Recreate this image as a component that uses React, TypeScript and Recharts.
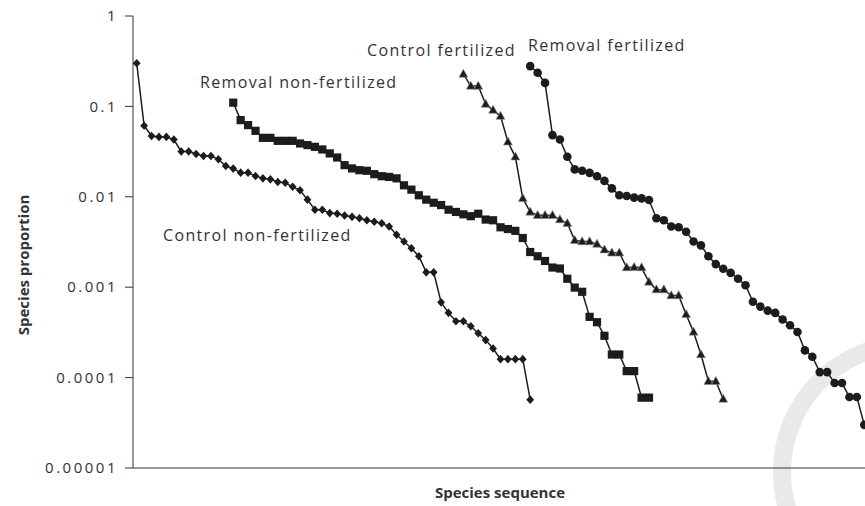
import React from "react"
import { LineChart, Line, XAxis, YAxis } from "recharts"

// species proportions
const controlNonFertilized = [
  0.3, 0.061, 0.047, 0.046, 0.046, 0.043, 0.0317, 0.0317, 0.0298, 0.0283,
  0.0283, 0.026, 0.0219, 0.0205, 0.0185, 0.0185, 0.017, 0.016, 0.0156, 0.0146,
  0.0143, 0.0129, 0.0118, 0.0093, 0.0072, 0.0072, 0.0066, 0.0065, 0.0062, 0.006,
  0.0058, 0.0055, 0.0053, 0.0051, 0.0047, 0.0038, 0.0032, 0.0027, 0.0022, 0.00146,
  0.00146, 0.00068, 0.00052, 0.00042, 0.00042, 0.00037, 0.00031, 0.00026, 0.00021, 0.00016,
  0.00016, 0.00016, 0.00016, 0.000057,
]

const removalNonFertilized = [
  0.11, 0.0705, 0.0621, 0.0537, 0.0449, 0.0449, 0.0416, 0.0416, 0.0416, 0.0389,
  0.0373, 0.0357, 0.0334, 0.0302, 0.0272, 0.0224, 0.0206, 0.0197, 0.0194, 0.0178,
  0.0169, 0.0166, 0.016, 0.0134, 0.012, 0.0104, 0.0093, 0.0086, 0.0081, 0.0072,
  0.0068, 0.0064, 0.0061, 0.0065, 0.0056, 0.0055, 0.0046, 0.0044, 0.0042, 0.0035,
  0.00245, 0.0022, 0.00195, 0.00165, 0.00161, 0.00124, 0.00099, 0.00089, 0.00047, 0.00041,
  0.00029, 0.00018, 0.00018, 0.000118, 0.000118, 0.00006, 0.00006,
]

const controlFertilized = [
  0.228, 0.168, 0.168, 0.106, 0.091, 0.078, 0.0406, 0.0277, 0.0096, 0.0068,
  0.00625, 0.00625, 0.00625, 0.0056, 0.0051, 0.0033, 0.0032, 0.0032, 0.003, 0.0026,
  0.0024, 0.0024, 0.00165, 0.00166, 0.00165, 0.00114, 0.00094, 0.00094, 0.00081, 0.00081,
  0.0005, 0.00032, 0.00018, 0.000091, 0.000091, 0.000058,
]

const removalFertilized = [
  0.279, 0.236, 0.182, 0.0481, 0.0431, 0.0277, 0.0201, 0.0194, 0.0184, 0.0169,
  0.015, 0.0124, 0.0104, 0.0102, 0.0098, 0.0096, 0.0092, 0.0058, 0.0055, 0.0047,
  0.0046, 0.0041, 0.0032, 0.0029, 0.0022, 0.0018, 0.0016, 0.00144, 0.00124, 0.00105,
  0.00069, 0.00061, 0.00055, 0.00052, 0.00044, 0.00038, 0.00032, 0.0002, 0.00017, 0.000115,
  0.000115, 0.000087, 0.000087, 0.000061, 0.000061, 0.00003,
]

// position of each curve's first species along the species sequence
const seriesStart = [0, 13, 44, 53]

const yTicks = [1, 0.1, 0.01, 0.001, 0.0001, 0.00001]
const yTickLabels = ["1", "0.1", "0.01", "0.001", "0.0001", "0.00001"]

const font = "'Open Sans', sans-serif"
const ink = "#1c1c1c"

const toPoints = (values: number[], start: number) =>
  values.map((y, i) => ({ x: start + i, y }))

const Diamond = (p: any) => {
  const { cx, cy, index } = p
  if (cx == null || cy == null) return <g key={`d${index}`} />
  return (
    <path
      key={`d${index}`}
      d={`M${cx},${cy - 4.3}L${cx + 3.9},${cy}L${cx},${cy + 4.3}L${cx - 3.9},${cy}Z`}
      fill={ink}
    />
  )
}

const Square = (p: any) => {
  const { cx, cy, index } = p
  if (cx == null || cy == null) return <g key={`s${index}`} />
  return <rect key={`s${index}`} x={cx - 4.1} y={cy - 4.1} width={8.2} height={8.2} fill={ink} />
}

const Triangle = (p: any) => {
  const { cx, cy, index } = p
  if (cx == null || cy == null) return <g key={`t${index}`} />
  return (
    <path
      key={`t${index}`}
      d={`M${cx},${cy - 4.8}L${cx + 4.4},${cy + 3.2}L${cx - 4.4},${cy + 3.2}Z`}
      fill={ink}
      stroke="#8a8a8a"
      strokeWidth={0.6}
    />
  )
}

const Circle = (p: any) => {
  const { cx, cy, index } = p
  if (cx == null || cy == null) return <g key={`c${index}`} />
  return <circle key={`c${index}`} cx={cx} cy={cy} r={4.3} fill={ink} />
}

const YTick = (p: any) => {
  const { x, y, payload } = p
  const i = yTicks.indexOf(payload.value)
  return (
    <text
      x={x}
      y={y}
      dy="0.35em"
      textAnchor="end"
      fill="#333"
      fontSize={15}
      fontFamily={font}
      letterSpacing={2.5}
    >
      {i >= 0 ? yTickLabels[i] : payload.value}
    </text>
  )
}

export default function App() {
  const labelStyle = { fontFamily: font, fontSize: 16, fill: "#333", letterSpacing: 1.35 }
  return (
    <div
      style={{
        position: "absolute",
        left: 0,
        top: 0,
        width: 865,
        height: 506,
        overflow: "hidden",
        background: "#fff",
      }}
    >
      {/* faint watermark ring in the lower right corner */}
      <svg width={865} height={506} style={{ position: "absolute", left: 0, top: 0 }}>
        <circle cx={910} cy={472} r={128} fill="none" stroke="#e9e9e9" strokeWidth={18} />
      </svg>
      <div style={{ position: "absolute", left: 0, top: 0 }}>
        <LineChart width={868} height={506} margin={{ top: 16, right: 0, bottom: 0, left: 0 }}>
          <XAxis
            type="number"
            dataKey="x"
            domain={[-0.5, 98.5]}
            allowDataOverflow
            height={38}
            tick={false}
            tickLine={false}
            axisLine={{ stroke: "#333" }}
          />
          <YAxis
            type="number"
            dataKey="y"
            scale="log"
            domain={[0.00001, 1]}
            allowDataOverflow
            ticks={yTicks}
            width={133}
            tickSize={8}
            tickMargin={7}
            tick={<YTick />}
            tickLine={{ stroke: "#333" }}
            axisLine={{ stroke: "#333" }}
          />
          <Line
            data={toPoints(controlNonFertilized, seriesStart[0])}
            dataKey="y"
            stroke={ink}
            strokeWidth={1.5}
            dot={Diamond}
            isAnimationActive={false}
          />
          <Line
            data={toPoints(removalNonFertilized, seriesStart[1])}
            dataKey="y"
            stroke={ink}
            strokeWidth={1.5}
            dot={Square}
            isAnimationActive={false}
          />
          <Line
            data={toPoints(controlFertilized, seriesStart[2])}
            dataKey="y"
            stroke={ink}
            strokeWidth={1.5}
            dot={Triangle}
            isAnimationActive={false}
          />
          <Line
            data={toPoints(removalFertilized, seriesStart[3])}
            dataKey="y"
            stroke={ink}
            strokeWidth={1.5}
            dot={Circle}
            isAnimationActive={false}
          />
        </LineChart>
      </div>
      <svg
        width={865}
        height={506}
        style={{ position: "absolute", left: 0, top: 0, pointerEvents: "none" }}
      >
        <text x={200} y={88} {...labelStyle}>Removal non-fertilized</text>
        <text x={163} y={241} {...labelStyle}>Control non-fertilized</text>
        <text x={367} y={56} {...labelStyle}>Control fertilized</text>
        <text x={528} y={51} {...labelStyle}>Removal fertilized</text>
        <text
          x={500}
          y={498}
          textAnchor="middle"
          fontFamily={font}
          fontSize={15}
          fontWeight="bold"
          fill="#333"
        >
          Species sequence
        </text>
        <text
          transform="translate(29,265) rotate(-90)"
          textAnchor="middle"
          fontFamily={font}
          fontSize={15}
          fontWeight="bold"
          fill="#333"
        >
          Species proportion
        </text>
      </svg>
    </div>
  )
}
